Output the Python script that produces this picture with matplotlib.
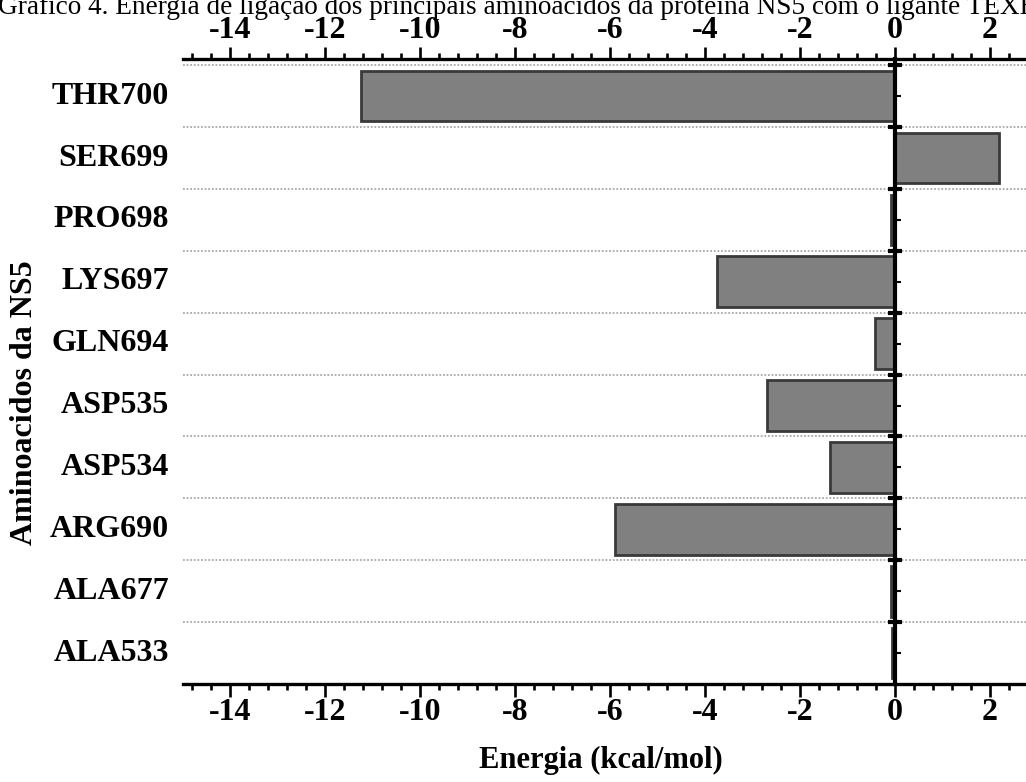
import matplotlib
matplotlib.use("Agg")
import matplotlib.pyplot as plt
from matplotlib.ticker import MultipleLocator, FixedLocator

# Data (top-to-bottom as shown)
residues = ["THR700", "SER699", "PRO698", "LYS697", "GLN694",
            "ASP535", "ASP534", "ARG690", "ALA677", "ALA533"]
energies = [-11.24, 2.2, -0.08, -3.75, -0.41, -2.69, -1.36, -5.9, -0.07, -0.05]
xticks = [-14, -12, -10, -8, -6, -4, -2, 0, 2]

title_text = ("Gráfico 4. Energia de ligação dos principais aminoácidos "
              "da proteína NS5 com o ligante TEXB")
xlabel_text = "Energia (kcal/mol)"
ylabel_text = "Aminoacidos da NS5"

plt.rcParams['font.family'] = ['Liberation Serif', 'DejaVu Serif']

W, H = 1026, 782
fig = plt.figure(figsize=(W / 100, H / 100), dpi=100)
fig.patch.set_facecolor('white')

left_px, right_px, top_px, bottom_px = 183, 1037, 59, 684
ax = fig.add_axes([left_px / W, 1 - bottom_px / H,
                   (right_px - left_px) / W, (bottom_px - top_px) / H])

n = len(residues)
ypos = [n - 1 - i for i in range(n)]

# gridlines at category boundaries
for b in range(n):
    ax.axhline(b + 0.5, color='#a8a8a8', lw=1.3, ls=(0, (1, 1)), zorder=0)

ax.barh(ypos, energies, height=0.82, color='#808080', edgecolor='#3a3a3a',
        linewidth=2.0, zorder=2)

ax.set_xlim(-15, 3)
ax.set_ylim(-0.5, 9.6)

# spines
ax.spines['right'].set_visible(False)
ax.spines['left'].set_position(('data', 0))
ax.spines['left'].set_linewidth(3.0)
ax.spines['left'].set_zorder(4)
for s in ('top', 'bottom'):
    ax.spines[s].set_linewidth(2.4)

# x ticks
ax.xaxis.set_major_locator(FixedLocator(xticks))
ax.xaxis.set_minor_locator(MultipleLocator(0.4))
ax.tick_params(axis='x', which='both', top=True, bottom=True,
               labeltop=True, labelbottom=True, direction='out')
ax.tick_params(axis='x', which='major', length=9, width=1.9, labelsize=23,
               pad=1)
ax.tick_params(axis='x', which='minor', length=4.5, width=1.9)
ax.set_xticklabels([str(v) for v in xticks], fontweight='bold')

# y ticks on the zero spine: boundaries major, centers minor
ax.yaxis.set_major_locator(FixedLocator([b + 0.5 for b in range(n)]))
ax.yaxis.set_minor_locator(FixedLocator(ypos))
ax.tick_params(axis='y', which='major', direction='inout', length=10,
               width=3, labelleft=False, right=False)
ax.tick_params(axis='y', which='minor', direction='in', length=4,
               width=1.5, right=False)

# category labels at the left edge of the axes
for y, name in zip(ypos, residues):
    ax.annotate(name, xy=(0, y), xycoords=('axes fraction', 'data'),
                xytext=(-10, 0), textcoords='offset points',
                ha='right', va='center', fontsize=23, fontweight='bold')

fig.text(601 / W, 1 - 760 / H, xlabel_text, ha='center', va='center',
         fontsize=22, fontweight='bold')
fig.text(25 / W, 1 - 403 / H, ylabel_text, ha='center', va='center',
         rotation=90, fontsize=23, fontweight='bold')
fig.text(-2 / W, 1 - 14 / H, title_text, ha='left', va='baseline',
         fontsize=19.6)

fig.savefig('out.png', dpi=100)
